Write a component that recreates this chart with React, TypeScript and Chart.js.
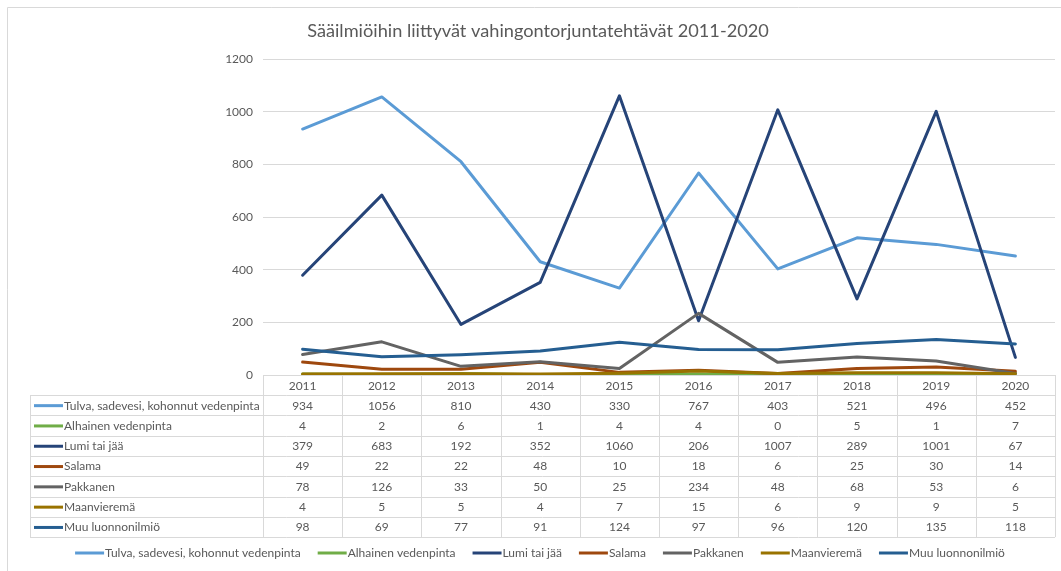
import React, { useEffect, useRef } from "react";
import { Chart, registerables } from "chart.js";

Chart.register(...registerables);

const titleText = "Sääilmiöihin liittyvät vahingontorjuntatehtävät 2011-2020";
const years = ["2011", "2012", "2013", "2014", "2015", "2016", "2017", "2018", "2019", "2020"];
const seriesNames = [
  "Tulva, sadevesi, kohonnut vedenpinta",
  "Alhainen vedenpinta",
  "Lumi tai jää",
  "Salama",
  "Pakkanen",
  "Maanvieremä",
  "Muu luonnonilmiö",
];
const tulva = [934, 1056, 810, 430, 330, 767, 403, 521, 496, 452];
const alhainen = [4, 2, 6, 1, 4, 4, 0, 5, 1, 7];
const lumi = [379, 683, 192, 352, 1060, 206, 1007, 289, 1001, 67];
const salama = [49, 22, 22, 48, 10, 18, 6, 25, 30, 14];
const pakkanen = [78, 126, 33, 50, 25, 234, 48, 68, 53, 6];
const maanvierema = [4, 5, 5, 4, 7, 15, 6, 9, 9, 5];
const muu = [98, 69, 77, 91, 124, 97, 96, 120, 135, 118];
const seriesColors = ["#5B9BD5", "#70AD47", "#264478", "#9E480E", "#636363", "#997300", "#255E91"];
const yMin = 0;
const yMax = 1200;
const yStep = 200;

const seriesValues = [tulva, alhainen, lumi, salama, pakkanen, maanvierema, muu];

const FONT = "Lato, 'Noto Sans', sans-serif";
const TEXT = "#595959";
const GRID = "#D9D9D9";

const tablePlugin = {
  id: "tableAndDecor",
  afterDraw(chart: any) {
    const ctx = chart.ctx as CanvasRenderingContext2D;
    const area = chart.chartArea;
    const x = chart.scales.x;
    const n = years.length;
    const colW = (area.right - area.left) / n;
    const W = chart.width;
    const H = chart.height;
    ctx.save();

    // outer border
    ctx.strokeStyle = GRID;
    ctx.lineWidth = 1;
    ctx.beginPath();
    ctx.moveTo(7.5, H + 2);
    ctx.lineTo(7.5, 7.5);
    ctx.lineTo(W + 2, 7.5);
    ctx.stroke();

    // title
    ctx.fillStyle = TEXT;
    ctx.font = `18.2px ${FONT}`;
    ctx.textAlign = "center";
    ctx.textBaseline = "middle";
    ctx.fillText(titleText, 538, 31);

    // table
    const top = area.bottom;
    const headH = 20;
    const rowH = 20.3;
    const labelLeft = 30;
    const bottom = top + headH + rowH * seriesNames.length;
    ctx.strokeStyle = GRID;
    ctx.lineWidth = 1;
    ctx.beginPath();
    for (let i = 0; i <= n; i++) {
      const vx = Math.round(area.left + i * colW) + 0.5;
      ctx.moveTo(vx, top);
      ctx.lineTo(vx, bottom);
    }
    ctx.moveTo(labelLeft + 0.5, top + headH);
    ctx.lineTo(labelLeft + 0.5, bottom);
    for (let r = 0; r <= seriesNames.length; r++) {
      const hy = Math.round(top + headH + r * rowH) + 0.5;
      ctx.moveTo(labelLeft, hy);
      ctx.lineTo(area.right, hy);
    }
    ctx.stroke();

    ctx.font = `12px ${FONT}`;
    ctx.fillStyle = TEXT;
    ctx.textAlign = "center";
    ctx.textBaseline = "middle";
    years.forEach((yr, i) => {
      ctx.fillText(yr, x.getPixelForValue(i), top + headH / 2 + 1);
    });
    seriesNames.forEach((name, r) => {
      const cy = top + headH + r * rowH + rowH / 2 + 0.5;
      ctx.strokeStyle = seriesColors[r];
      ctx.lineWidth = 3;
      ctx.beginPath();
      ctx.moveTo(34, cy);
      ctx.lineTo(63, cy);
      ctx.stroke();
      ctx.fillStyle = TEXT;
      ctx.textAlign = "left";
      ctx.fillText(name, 64, cy);
      ctx.textAlign = "center";
      seriesValues[r].forEach((v, i) => {
        ctx.fillText(String(v), x.getPixelForValue(i), cy);
      });
    });

    // legend
    const sample = 30;
    const gap = 17;
    const widths = seriesNames.map((nm) => sample + ctx.measureText(nm).width);
    const total = widths.reduce((a, b) => a + b, 0) + gap * (seriesNames.length - 1);
    let lx = 540 - total / 2;
    const ly = 553;
    seriesNames.forEach((nm, i) => {
      ctx.strokeStyle = seriesColors[i];
      ctx.lineWidth = 3;
      ctx.beginPath();
      ctx.moveTo(lx, ly);
      ctx.lineTo(lx + sample - 1, ly);
      ctx.stroke();
      ctx.fillStyle = TEXT;
      ctx.textAlign = "left";
      ctx.fillText(nm, lx + sample, ly);
      lx += widths[i] + gap;
    });

    ctx.restore();
  },
};

export default function App() {
  const ref = useRef<HTMLCanvasElement | null>(null);
  useEffect(() => {
    if (!ref.current) return;
    const chart = new Chart(ref.current, {
      type: "line",
      data: {
        labels: years,
        datasets: seriesNames.map((name, i) => ({
          label: name,
          data: seriesValues[i],
          borderColor: seriesColors[i],
          backgroundColor: seriesColors[i],
          borderWidth: 3,
          pointRadius: 0,
          tension: 0,
          fill: false,
          order: seriesNames.length - i,
          borderJoinStyle: "round" as const,
          borderCapStyle: "round" as const,
        })),
      },
      options: {
        responsive: false,
        animation: false,
        devicePixelRatio: 1,
        layout: { padding: { top: 59, bottom: 196, left: 0, right: 6 } },
        plugins: {
          legend: { display: false },
          title: { display: false },
          tooltip: { enabled: false },
        },
        scales: {
          x: {
            type: "category",
            offset: true,
            display: false,
          },
          y: {
            min: yMin,
            max: yMax,
            afterFit: (s: any) => {
              s.width = 263;
            },
            ticks: {
              stepSize: yStep,
              color: TEXT,
              padding: 10,
              font: { family: FONT, size: 12 },
              callback: (v: any) => String(v),
            },
            grid: { color: GRID, drawTicks: false, lineWidth: 1 },
            border: { display: false },
          },
        },
      },
      plugins: [tablePlugin],
    });
    return () => chart.destroy();
  }, []);
  return (
    <div style={{ position: "fixed", left: 0, top: 0, width: 1061, height: 571, background: "#fff" }}>
      <canvas ref={ref} width={1061} height={571} style={{ display: "block" }} />
    </div>
  );
}
